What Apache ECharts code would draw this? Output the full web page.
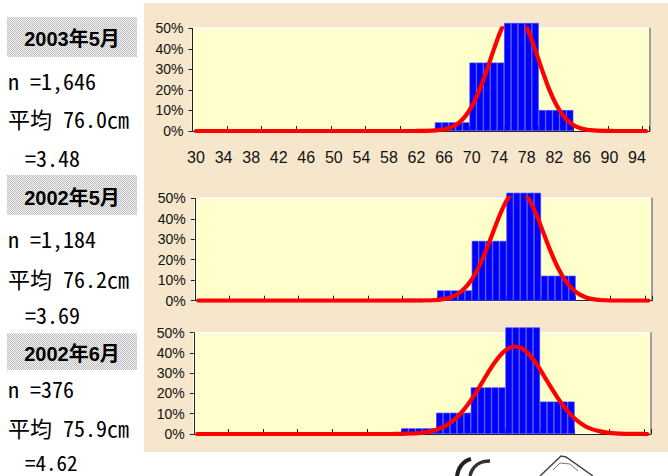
<!DOCTYPE html>
<html><head><meta charset="utf-8">
<script src="https://cdn.jsdelivr.net/npm/echarts@6/dist/echarts.min.js"></script>
<style>html,body{margin:0;padding:0;background:#fff;}#c{width:668px;height:476px;}</style>
</head><body><div id="c"></div>
<script>
// 1-cm categories (30..95)
const categories = ['30','31','32','33','34','35','36','37','38','39','40','41','42','43','44','45','46','47','48','49','50','51','52','53','54','55','56','57','58','59','60','61','62','63','64','65','66','67','68','69','70','71','72','73','74','75','76','77','78','79','80','81','82','83','84','85','86','87','88','89','90','91','92','93','94','95'];
// 5-cm bins (start of each bin)
const binStarts = [30,35,40,45,50,55,60,65,70,75,80,85,90];
const bins2003May = [0,0,0,0,0,0,0.8,4.2,33.3,52.6,10.2,0,0];
const bins2002May = [0,0,0,0,0,0.6,1.0,5.0,29.2,52.7,12.2,0,0];
const bins2002Jun = [0,0,0,0,0,0.5,2.8,10.5,23.0,52.6,16.0,0,0];
// fitted curves, one value per category 30..95
const curve2003May = [
  0,0,0,0,0,0,0,0,0,0,      // 30-39
  0,0,0,0,0,0,0,0,0,0,      // 40-49
  0,0,0,0,0,0,0,0,0,0,      // 50-59
  0,0,0.02,0.05,0.15,0.4,0.9,2.0,4.1,7.6,            // 60-69
  13.0,20.4,29.6,39.5,48.6,55.0,57.3,55.0,48.6,39.5, // 70-79
  29.6,20.4,13.0,7.6,4.1,2.0,0.9,0.4,0.15,0.05,      // 80-89
  0.02,0,0,0,0,0                                      // 90-95
];
const curve2002May = [
  0,0,0,0,0,0,0,0,0,0,
  0,0,0,0,0,0,0,0,0,0,
  0,0,0,0,0,0,0,0,0,0,
  0,0,0.03,0.09,0.23,0.54,1.2,2.4,4.6,8.1,
  13.2,20.0,28.3,37.2,45.3,51.3,54.0,52.8,48.0,40.6,
  31.8,23.2,15.7,9.9,5.9,3.2,1.6,0.75,0.33,0.13,
  0.05,0,0,0,0,0
];
const curve2002Jun = [
  0,0,0,0,0,0,0,0,0,0,
  0,0,0,0,0,0,0,0,0,0,
  0,0,0,0,0,0,0,0,0,0.05,
  0.12,0.24,0.47,0.88,1.56,2.7,4.4,6.7,10.0,14.2,
  19.1,24.6,30.3,35.5,39.7,42.4,43.2,42.0,39.0,34.5,
  29.1,23.5,18.1,13.3,9.3,6.2,3.9,2.4,1.4,0.78,
  0.41,0.21,0.1,0.04,0.02,0.01
];
// tick label row under first chart
const xLabels = ['30','34','38','42','46','50','54','58','62','66','70','74','78','82','86','90','94'];
const titles = ['2003年5月','2002年5月','2002年6月'];
const nTexts = ['n =1,646','n =1,184','n =376'];
const meanTexts = ['平均 76.0㎝','平均 76.2㎝','平均 75.9㎝'];
const sdTexts = ['=3.48','=3.69','=4.62'];
</script>
<script>
function expand(bins){
  return categories.map(c => {
    const k = +c; let idx = -1;
    for (let i=0;i<binStarts.length;i++) if (k>=binStarts[i]) idx=i;
    const v = bins[idx];
    return v === 0 ? null : v;
  });
}
const barData = [expand(bins2003May), expand(bins2002May), expand(bins2002Jun)];
const curves = [curve2003May, curve2002May, curve2002Jun];

const grids = [
  {left:192.5, top:28.3, width:457, height:102.7},
  {left:194.8, top:198.3, width:457, height:102.4},
  {left:193.8, top:332.7, width:457, height:101.3}
];
const gridOpts = grids.map(g => Object.assign({show:true, backgroundColor:'#FFFFCC', borderColor:'#ffffff', borderWidth:1.5}, g));
gridOpts.push({left:196, width:441, top:140, height:1, show:false});

const xAxes = grids.map((g,i) => ({
  type:'category', gridIndex:i, data:categories, boundaryGap:true,
  axisLine:{show:true, lineStyle:{color:'#222', width:1}},
  axisTick:{show:true, inside:true, length:5, interval:4, lineStyle:{color:'#222'}},
  axisLabel:{show:false}, splitLine:{show:false}
}));
xAxes.push({type:'category', gridIndex:3, data:xLabels, boundaryGap:false,
  axisLine:{show:false}, axisTick:{show:false},
  axisLabel:{interval:0, fontSize:16, color:'#111', margin:8, fontFamily:'"Liberation Sans", Arial, sans-serif'}});

const yAxes = [];
grids.forEach((g,i) => {
  yAxes.push({type:'value', gridIndex:i, min:0, max:50, interval:10,
    axisLine:{show:true, lineStyle:{color:'#222'}},
    axisTick:{show:true, length:4, lineStyle:{color:'#222'}},
    axisLabel:{formatter:'{value}%', fontSize:14, color:'#111', margin:9, fontFamily:'"Liberation Sans", Arial, sans-serif'},
    splitLine:{show:false}});
});
grids.forEach((g,i) => {
  yAxes.push({type:'value', gridIndex:i, min:0, max:50, interval:10, position:'right',
    axisLine:{show:true, lineStyle:{color:'#808080', width:1.5}},
    axisTick:{show:false}, axisLabel:{show:false}, splitLine:{show:false}});
});
yAxes.push({type:'value', gridIndex:3, show:false});

const series = [];
grids.forEach((g,i) => {
  series.push({type:'bar', xAxisIndex:i, yAxisIndex:i, data:barData[i], barCategoryGap:'0%',
    clip:false, z:2, itemStyle:{color:'#0000FF', borderColor:'#3f3fff', borderWidth:0.7}, silent:true});
  series.push({type:'line', xAxisIndex:i, yAxisIndex:i, data:curves[i], smooth:0.4, symbol:'none',
    clip:true, z:3, lineStyle:{color:'#FF0000', width:4.2, cap:'round'}, silent:true});
});

// halftone pattern for title boxes
const pc = document.createElement('canvas'); pc.width=2; pc.height=2;
const px = pc.getContext('2d');
px.fillStyle='#f4f4f4'; px.fillRect(0,0,2,2);
px.fillStyle='#bdbdbd'; px.fillRect(0,0,1,1); px.fillRect(1,1,1,1);
const patternURL = pc.toDataURL();

const monoFont = '"Noto Sans Mono CJK JP", "DejaVu Sans Mono", monospace';
const boxY = [17, 175, 333.3];
const boxH = [40, 40, 36.7];
const titleY = [38.5, 198, 354];
const nY = [79.5, 238, 387.5];
const meanY = [118, 278, 427];
const sdY = [156.5, 314, 462];
const sdSize = [22, 22, 21];
const graphic = [
  {type:'rect', z:-10, shape:{x:144, y:3, width:524, height:449}, style:{fill:'#F6E7CC'}},
  // decorative clip-art at the bottom
  {type:'bezierCurve', shape:{x1:457, y1:476, cpx1:458, cpy1:468, cpx2:463, cpy2:461, x2:471, y2:459}, style:{fill:'none', stroke:'#222', lineWidth:4}},
  {type:'bezierCurve', shape:{x1:470, y1:476, cpx1:472, cpy1:467, cpx2:479, cpy2:461, x2:490, y2:461}, style:{fill:'none', stroke:'#333', lineWidth:3.5}},
  {type:'polyline', shape:{points:[[540,476],[561,456],[566,457],[593,476]]}, style:{fill:'none', stroke:'#444', lineWidth:1.5}},
  {type:'polyline', shape:{points:[[553,470],[560,463],[570,464],[578,471]]}, style:{fill:'none', stroke:'#777', lineWidth:1}}
];
for (let i=0;i<3;i++){
  graphic.push({type:'rect', shape:{x:7, y:boxY[i], width:130, height:boxH[i]}, style:{fill:{image:patternURL, repeat:'repeat'}}});
  graphic.push({type:'text', x:72, y:titleY[i], style:{text:titles[i], textAlign:'center', textVerticalAlign:'middle', font:'bold 20px "Liberation Sans", "Noto Sans CJK JP", sans-serif', fill:'#000'}});
  graphic.push({type:'text', x:8, y:nY[i], style:{text:nTexts[i], textAlign:'left', textVerticalAlign:'middle', font:'22px ' + monoFont, fill:'#000'}});
  graphic.push({type:'text', x:8, y:meanY[i], style:{text:meanTexts[i], textAlign:'left', textVerticalAlign:'middle', font:'22px ' + monoFont, fill:'#000'}});
  graphic.push({type:'text', x:25, y:sdY[i], style:{text:sdTexts[i], textAlign:'left', textVerticalAlign:'middle', font:sdSize[i] + 'px ' + monoFont, fill:'#000'}});
}

const chart = echarts.init(document.getElementById('c'), null, {renderer:'svg'});
chart.setOption({
  animation:false, backgroundColor:'#ffffff',
  grid:gridOpts, xAxis:xAxes, yAxis:yAxes, series:series, graphic:graphic
});
</script>
</body></html>
